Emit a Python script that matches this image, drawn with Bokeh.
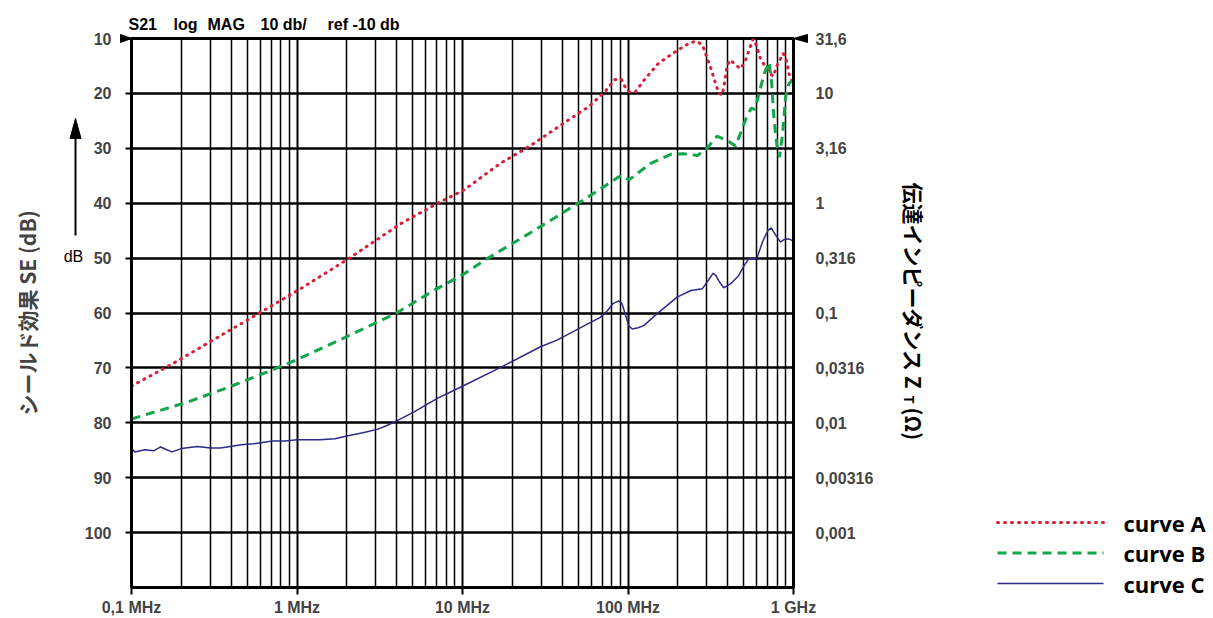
import math
from bokeh.plotting import figure
from bokeh.models import Range1d, LinearAxis, FixedTicker
from bokeh.core.properties import value
from bokeh.embed import file_html
from bokeh.resources import INLINE

# ---------------- data (frequency in MHz, shielding effectiveness in dB) -------------
freq_a = [0.1, 0.176, 0.3, 0.5, 1.05, 2.1, 4.22, 7.19, 10.2, 17, 22.4, 27, 41, 58, 73,
          83, 91, 95, 101, 111, 124, 153, 198, 236, 258, 281, 300, 322, 341, 355, 371,
          385, 397, 416, 446, 479, 513, 537, 571, 598, 632, 678, 726, 754, 796, 834,
          866, 907, 938, 982, 1000]
se_a = [73.3, 69.3, 65.2, 61.3, 55.6, 49.9, 43.75, 39.9, 37.6, 32.7, 30.6, 29.1, 25.4,
        22.4, 19.6, 17.5, 17.4, 18.6, 19.7, 19.7, 17.7, 14.5, 12.2, 10.8, 10.5, 11.1,
        13.5, 16.1, 18.6, 20.0, 20.3, 17.7, 14.9, 13.9, 14.8, 15.5, 14.0, 12.2, 10.05,
        11.3, 13.7, 15.2, 16.4, 16.9, 14.9, 13.7, 12.7, 14.0, 16.4, 17.8, 18.3]

freq_b = [0.1, 0.217, 0.396, 0.69, 1.0, 2.0, 4.0, 6.7, 10.2, 14.1, 27, 52, 73, 88, 94,
          101, 136, 181, 217, 263, 300, 345, 399, 446, 479, 513, 555, 585, 617, 665,
          713, 740, 760, 796, 823, 850, 866, 895, 937, 982, 1000]
se_b = [79.3, 76.25, 73.4, 70.5, 68.5, 64.3, 60.0, 55.9, 52.9, 50.1, 45.0, 39.7, 36.8,
        35.2, 35.0, 35.8, 32.8, 31.1, 31.0, 31.3, 30.0, 27.8, 28.6, 29.6, 27.2, 24.8,
        22.7, 22.9, 20.2, 16.4, 14.3, 18.5, 24.3, 29.8, 31.6, 28.5, 26.2, 20.7, 18.25,
        17.65, 17.5]

freq_c = [0.1, 0.105, 0.12, 0.136, 0.15, 0.163, 0.176, 0.2, 0.25, 0.3, 0.345, 0.396,
          0.46, 0.55, 0.71, 0.85, 1.0, 1.38, 1.7, 2.0, 2.5, 3.05, 3.5, 4.03, 5.1, 7.0,
          10.2, 17, 29.4, 37.5, 59.5, 68, 75, 81, 88, 92, 96, 101, 106, 115, 124.5,
          149, 198, 240, 281, 300, 327, 340, 353, 378, 416, 466, 500, 537, 599, 655,
          700, 733, 780, 834, 880, 937, 1000]
se_c = [84.7, 85.3, 84.9, 85.1, 84.4, 84.9, 85.3, 84.7, 84.3, 84.6, 84.6, 84.3, 84.0,
        83.8, 83.3, 83.3, 83.1, 83.1, 82.9, 82.4, 81.8, 81.2, 80.5, 79.6, 78.0, 75.6,
        73.2, 69.9, 66.2, 64.9, 61.7, 60.8, 59.6, 58.3, 57.8, 58.3, 60.1, 62.3, 62.9,
        62.7, 62.3, 60.2, 57.1, 55.9, 55.6, 54.4, 52.75, 53.2, 54.1, 55.4, 54.7, 53.2,
        51.5, 50.1, 50.1, 46.8, 45.0, 44.5, 45.8, 47.1, 46.6, 46.5, 46.9]

series_names = ["curve A", "curve B", "curve C"]

x_ticks = [0.1, 1.0, 10.0, 100.0, 1000.0]
x_tick_labels = ["0,1 MHz", "1 MHz", "10 MHz", "100 MHz", "1 GHz"]
x_minor = [m * 10.0 ** e for e in range(-1, 3) for m in range(2, 10)]
y_ticks = [10, 20, 30, 40, 50, 60, 70, 80, 90, 100]
zt_labels = ["31,6", "10", "3,16", "1", "0,316", "0,1", "0,0316", "0,01", "0,00316", "0,001"]
title_tokens = ["S21", "log", "MAG", "10 db/", "ref -10 db"]
left_title = "シールド効果 SE (dB)"
right_title = ["伝達インピーダンス Z", "T", "(Ω)"]

RED = "#d81f3a"
GREEN = "#12a54a"
NAVY = "#2d2a88"
TICK_FONT = "Liberation Sans"
CJK_FONT = "Noto Sans CJK JP"

# frame geometry (px) used only to place decorations outside the frame
FL, FT, PX_DEC, PX_DB = 131, 38, 165.5, 5.49


def px2x(px):
    return 0.1 * 10 ** ((px - FL) / PX_DEC)


def py2y(py):
    return 10 + (py - FT) / PX_DB


p = figure(width=1213, height=618, x_axis_type="log",
           x_range=Range1d(0.1, 1000), y_range=Range1d(110, 10),
           output_backend="svg", toolbar_location=None,
           min_border_left=131, min_border_right=420,
           min_border_top=38, min_border_bottom=31)
p.background_fill_color = "white"
p.border_fill_color = "white"
p.outline_line_color = "black"
p.outline_line_width = 3

# x axis
xa = p.xaxis[0]
xa.ticker = FixedTicker(ticks=x_ticks, minor_ticks=x_minor)
xa.major_label_overrides = {t: l for t, l in zip(x_ticks, x_tick_labels)}
xa.major_tick_out = 7
xa.major_tick_in = 0
xa.major_tick_line_width = 2
xa.minor_tick_line_color = None
xa.axis_line_width = 3
xa.major_label_standoff = 4
xa.major_label_text_font = TICK_FONT
xa.major_label_text_font_style = "bold"
xa.major_label_text_font_size = "16px"

# left y axis
ya = p.yaxis[0]
ya.ticker = FixedTicker(ticks=y_ticks, minor_ticks=[])
ya.major_tick_out = 6
ya.major_tick_in = 0
ya.major_tick_line_width = 2
ya.minor_tick_line_color = None
ya.axis_line_width = 3
ya.major_label_standoff = 14
ya.major_label_text_font = TICK_FONT
ya.major_label_text_font_style = "bold"
ya.major_label_text_font_size = "16px"
ya.axis_label = left_title
ya.axis_label_text_font = CJK_FONT
ya.axis_label_text_font_style = "bold"
ya.axis_label_text_font_size = "21px"
ya.axis_label_standoff = 40

# right axis: transfer impedance
ra = LinearAxis(ticker=FixedTicker(ticks=y_ticks, minor_ticks=[]),
                major_label_overrides={t: l for t, l in zip(y_ticks, zt_labels)},
                major_tick_out=0, major_tick_in=0, minor_tick_line_color=None,
                axis_line_width=3, major_label_standoff=22,
                major_label_text_font=TICK_FONT, major_label_text_font_style="bold",
                major_label_text_font_size="16px")
p.add_layout(ra, "right")

# grid
p.xgrid.grid_line_color = "black"
p.xgrid.grid_line_width = 2
p.xgrid.minor_grid_line_color = "black"
p.xgrid.minor_grid_line_width = 1.5
p.ygrid.grid_line_color = "black"
p.ygrid.grid_line_width = 2.5

# curves
styles = [dict(line_color=RED, line_width=3, line_dash="1 6", line_cap="round"),
          dict(line_color=GREEN, line_width=3, line_dash="9 6"),
          dict(line_color=NAVY, line_width=1.5)]
for fx, fy, st in zip([freq_a, freq_b, freq_c], [se_a, se_b, se_c], styles):
    p.line(fx, fy, **st)

# ---- decorations drawn outside the frame (overlay level, not clipped) ----
# legend (bottom right)
for i, (name, st) in enumerate(zip(series_names, styles)):
    yy = py2y(522 + 30.5 * i)
    p.line([px2x(997), px2x(1103)], [yy, yy], level="overlay", **st)
p.text(x=[px2x(1123)] * 3, y=[py2y(522 + 30.5 * i) for i in range(3)], text=series_names,
       text_font=value("Open Sans"), text_font_style="bold", text_font_size="22px",
       text_align="left", text_baseline="middle", text_color="black", level="overlay")

# title line
p.text(x=[px2x(v) for v in [128, 173, 207, 260, 327]], y=[py2y(24)] * 5, text=title_tokens,
       text_font=value(TICK_FONT), text_font_style="bold", text_font_size="16px",
       text_align="left", text_baseline="middle", text_color="black", level="overlay")

# reference triangles at 10 dB
p.patch(x=[px2x(120), px2x(131), px2x(120)], y=[py2y(34), py2y(38), py2y(42)],
        fill_color="black", line_color="black", line_width=1, level="overlay")
p.patch(x=[px2x(807), px2x(793), px2x(807)], y=[py2y(34), py2y(38), py2y(42)],
        fill_color="black", line_color="black", line_width=1, level="overlay")

# arrow with "dB"
p.line(x=[px2x(75), px2x(75)], y=[py2y(235), py2y(135)],
       line_color="black", line_width=2, level="overlay")
p.patch(x=[px2x(75), px2x(69.5), px2x(80.5)], y=[py2y(118), py2y(138), py2y(138)],
        fill_color="black", line_color="black", line_width=1, level="overlay")
p.text(x=[px2x(73)], y=[py2y(256)], text=["dB"], text_font=value(TICK_FONT),
       text_font_size="16px", text_align="center", text_baseline="middle",
       text_color="black", level="overlay")

# right title (rotated, reads top to bottom) with subscript T
p.text(x=[px2x(913), px2x(913)], y=[py2y(182), py2y(407)], text=[right_title[0], right_title[2]],
       angle=-math.pi / 2, text_font=value(CJK_FONT), text_font_style="bold",
       text_font_size="21px", text_align="left", text_baseline="middle",
       text_color="black", level="overlay")
p.text(x=[px2x(909)], y=[py2y(399)], text=[right_title[1]],
       angle=-math.pi / 2, text_font=value(CJK_FONT), text_font_style="bold",
       text_font_size="13px", text_align="center", text_baseline="middle",
       text_color="black", level="overlay")

open("out.html", "w").write(file_html(p, INLINE))
